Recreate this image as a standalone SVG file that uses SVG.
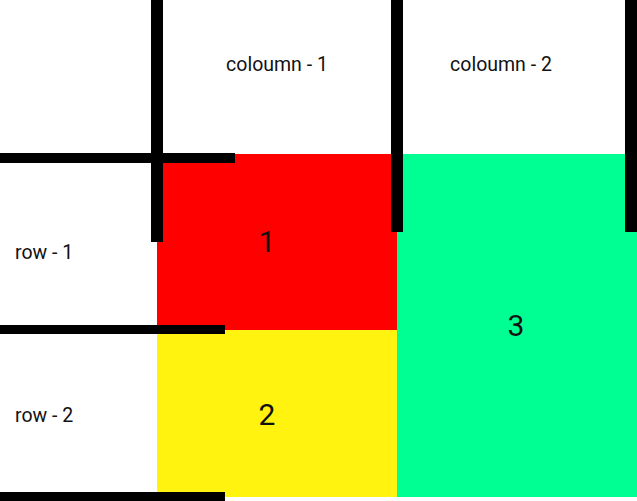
<svg xmlns="http://www.w3.org/2000/svg" width="637" height="501" viewBox="0 0 637 501">
<style>
.lbl{font-family:Roboto,"Liberation Sans",sans-serif;font-size:19.5px;fill:#111}
.num{font-family:Roboto,"Liberation Sans",sans-serif;font-size:30px;fill:#111;text-anchor:middle}
.bar{fill:#000}
</style>
<rect width="637" height="501" fill="#fff"/>
<g id="cell-1"><rect x="157" y="154" width="240" height="176" fill="#ff0000"/><text class="num" x="267" y="252">1</text></g>
<g id="cell-2"><rect x="157" y="330" width="240" height="167" fill="#fff30f"/><text class="num" x="267" y="425">2</text></g>
<g id="cell-3"><rect x="397" y="154" width="240" height="343" fill="#00ff92"/><text class="num" x="516" y="336">3</text></g>
<g id="col-1"><text class="lbl" x="277" y="71" text-anchor="middle">coloumn - 1</text></g>
<g id="col-2"><text class="lbl" x="501" y="71" text-anchor="middle">coloumn - 2</text></g>
<g id="row-1"><text class="lbl" x="15" y="259">row - 1</text></g>
<g id="row-2"><text class="lbl" x="15" y="422">row - 2</text></g>
<g id="connectors">
<rect class="bar" x="151" y="0" width="12" height="242"/>
<rect class="bar" x="391" y="0" width="12" height="232"/>
<rect class="bar" x="625" y="0" width="12" height="232"/>
<rect class="bar" x="0" y="153" width="235" height="10"/>
<rect class="bar" x="0" y="325" width="225" height="9"/>
<rect class="bar" x="0" y="492" width="225" height="9"/>
</g>
</svg>
